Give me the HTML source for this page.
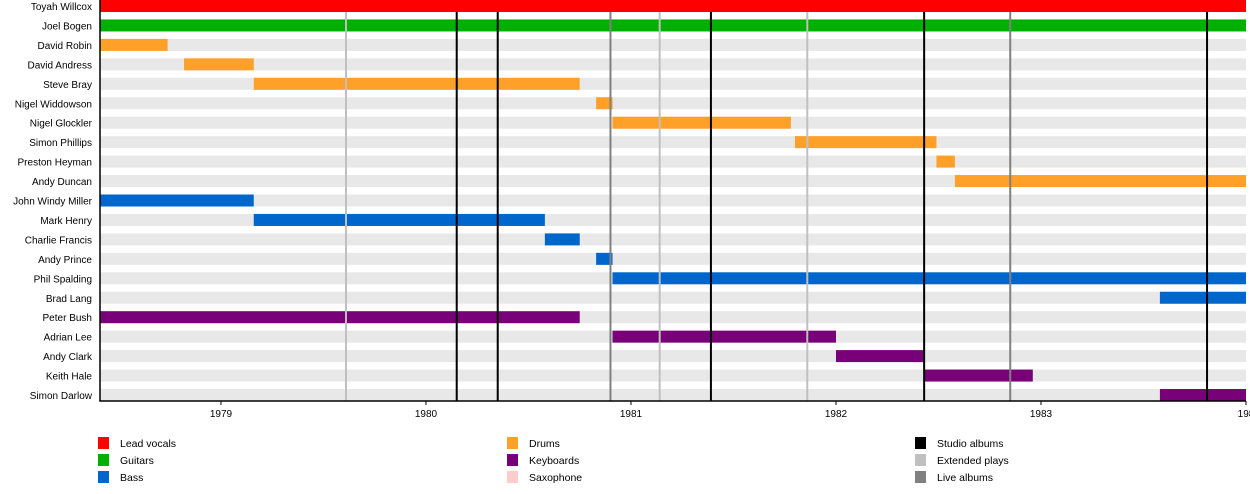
<!DOCTYPE html>
<html><head><meta charset="utf-8"><style>
body{margin:0;background:#fff;width:1250px;height:489px;overflow:hidden;font-family:"Liberation Sans",sans-serif}
svg text{font-family:"Liberation Sans",sans-serif}
</style></head><body>
<svg id="chart" width="1250" height="489" xmlns="http://www.w3.org/2000/svg"></svg>
<script>
const members=["Toyah Willcox","Joel Bogen","David Robin","David Andress","Steve Bray","Nigel Widdowson","Nigel Glockler","Simon Phillips","Preston Heyman","Andy Duncan","John Windy Miller","Mark Henry","Charlie Francis","Andy Prince","Phil Spalding","Brad Lang","Peter Bush","Adrian Lee","Andy Clark","Keith Hale","Simon Darlow"];
const starts=[1978.41,1978.41,1978.41,1978.82,1979.16,1980.83,1980.91,1981.80,1982.49,1982.58,1978.41,1979.16,1980.58,1980.83,1980.91,1983.58,1978.41,1980.91,1982.0,1982.43,1983.58];
const ends=[1984,1984,1978.74,1979.16,1980.75,1980.91,1981.78,1982.49,1982.58,1984,1979.16,1980.58,1980.75,1980.91,1984,1984,1980.75,1982.0,1982.43,1982.96,1984];
const roles=["vocals","guitars","drums","drums","drums","drums","drums","drums","drums","drums","bass","bass","bass","bass","bass","bass","keys","keys","keys","keys","keys"];
const studioAlbums=[1980.15,1980.35,1981.39,1982.43,1983.81];
const eps=[1979.61,1981.14,1981.86];
const liveAlbums=[1980.9,1982.85];
const tickYears=[1979,1980,1981,1982,1983,1984];
const tickLabels=["1979","1980","1981","1982","1983","198"];
const colors={vocals:"#ff0000",guitars:"#00b000",bass:"#0066cc",drums:"#ffa028",keys:"#780078"};
const X0=100,X1=1246,Y0=1978.41,YR=1984;
const x=v=>X0+(v-Y0)/(YR-Y0)*(X1-X0);
const rowY=i=>6+i*19.45;
const svg=document.getElementById('chart');
const NS="http://www.w3.org/2000/svg";
function mk(t,a){const e=document.createElementNS(NS,t);for(const k in a)e.setAttribute(k,a[k]);svg.appendChild(e);return e;}
members.forEach((m,i)=>{
  const bg=mk('rect',{x:X0,y:rowY(i)-6,width:X1-X0,height:12,fill:'#e8e8e8'});
  
  
  const t=mk('text',{x:92,y:rowY(i)+4,'text-anchor':'end','font-size':10,fill:'#000'});
  t.textContent=m;
  
  
});
members.forEach((m,i)=>{
  const b=mk('rect',{x:x(starts[i]),y:rowY(i)-6,width:x(ends[i])-x(starts[i]),height:12,fill:colors[roles[i]]});
  
  
});
function vlines(arr,col,w,name){arr.forEach(v=>{
  const l=mk('line',{x1:x(v),x2:x(v),y1:12,y2:401,stroke:col,'stroke-width':w});
  
  
});}
vlines(eps,'#c0c0c0',2,'ep-line');
vlines(liveAlbums,'#808080',2,'live-album-line');
vlines(studioAlbums,'#000',2,'studio-album-line');
const ax=mk('path',{d:`M${X0} 0V401H${X1}`,stroke:'#000','stroke-width':1.5,fill:'none'});


tickYears.forEach((yv,i)=>{
  const tk=mk('line',{x1:x(yv),x2:x(yv),y1:401,y2:405,stroke:'#000'});
  
  
  const t=mk('text',{x:x(yv),y:417,'text-anchor':'middle','font-size':10});
  t.textContent=tickLabels[i];
  
  
});
const legend=[["Lead vocals","#ff0000",98,443],["Guitars","#00b000",98,460],["Bass","#0066cc",98,477],["Drums","#ffa028",507,443],["Keyboards","#780078",507,460],["Saxophone","#ffcccc",507,477],["Studio albums","#000000",915,443],["Extended plays","#c0c0c0",915,460],["Live albums","#808080",915,477]];
legend.forEach(l=>{
  const r=mk('rect',{x:l[2],y:l[3]-6,width:11,height:12,fill:l[1]});
  
  
  const t=mk('text',{x:l[2]+22,y:l[3]+4,'font-size':10.5});
  t.textContent=l[0];
  
  
});
</script>
</body></html>
